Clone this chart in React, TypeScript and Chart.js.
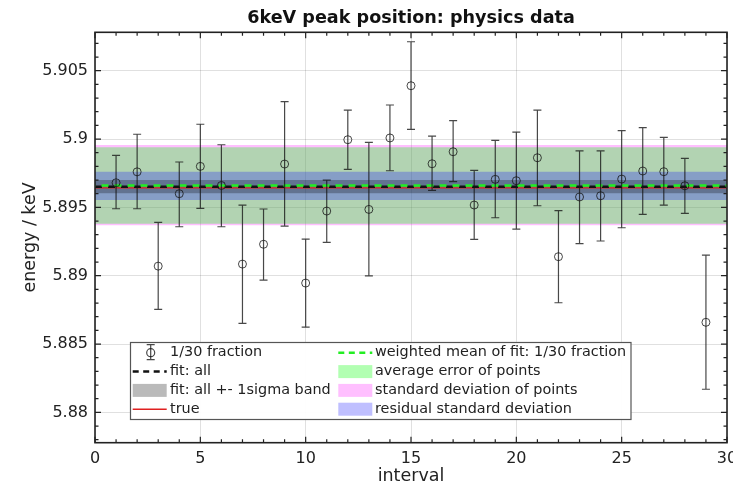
import React, { useEffect, useRef } from 'react';
import { Chart, registerables } from 'chart.js';

Chart.register(...registerables);

// ---------- data ----------
const intervals = [1, 2, 3, 4, 5, 6, 7, 8, 9, 10, 11, 12, 13, 14, 15, 16, 17, 18, 19, 20, 21, 22, 23, 24, 25, 26, 27, 28, 29];
const positions = [
  5.8968, 5.8976, 5.8907, 5.8960, 5.8980, 5.8966, 5.89085, 5.8923, 5.89817, 5.88946,
  5.89473, 5.89995, 5.89485, 5.90008, 5.9039, 5.89819, 5.89907, 5.89517, 5.89705, 5.89695,
  5.89863, 5.89139, 5.89576, 5.89585, 5.89707, 5.89766, 5.89761, 5.89658, 5.88659,
];
const errUpper = [
  5.8988, 5.90035, 5.8939, 5.89832, 5.90108, 5.89958, 5.89517, 5.89488, 5.90273, 5.89268,
  5.8970, 5.90212, 5.89976, 5.90249, 5.90712, 5.90022, 5.90134, 5.89771, 5.8999, 5.9005,
  5.90212, 5.89476, 5.89914, 5.89914, 5.90061, 5.90083, 5.90012, 5.89859, 5.89151,
];
const errLower = [
  5.8949, 5.8949, 5.88754, 5.89358, 5.89493, 5.89358, 5.88651, 5.88968, 5.89363, 5.88624,
  5.89244, 5.89778, 5.88998, 5.89768, 5.90071, 5.89625, 5.89688, 5.89266, 5.89424, 5.89341,
  5.89512, 5.88802, 5.89234, 5.89254, 5.89351, 5.89449, 5.89517, 5.89456, 5.88169,
];

const fitAll = 5.8965;
const fitBand = [5.89603, 5.8970];
const weightedMean = 5.8966;
const trueValue = 5.89642;
const avgErrBand = [5.8938, 5.8994];
const stdDevBand = [5.8937, 5.89956];
const residBand = [5.89554, 5.89761];

const X_MIN = 0;
const X_MAX = 30;
const Y_MIN = 5.87778;
const Y_MAX = 5.90781;
const xTickValues = [0, 5, 10, 15, 20, 25, 30];
const xTickLabels = ['0', '5', '10', '15', '20', '25', '30'];
const yTickValues = [5.88, 5.885, 5.89, 5.895, 5.9, 5.905];
const yTickLabels = ['5.88', '5.885', '5.89', '5.895', '5.9', '5.905'];

const titleText = '6keV peak position: physics data';
const xTitle = 'interval';
const yTitle = 'energy / keV';

const legendLeft = [
  { kind: 'errorbar', label: '1/30 fraction' },
  { kind: 'dash', color: '#111111', label: 'fit: all' },
  { kind: 'patch', color: 'rgba(0,0,0,0.27)', label: 'fit: all +- 1sigma band' },
  { kind: 'line', color: '#e02020', label: 'true' },
];
const legendRight = [
  { kind: 'dash', color: '#22ee22', label: 'weighted mean of fit: 1/30 fraction' },
  { kind: 'patch', color: 'rgba(0,255,0,0.3)', label: 'average error of points' },
  { kind: 'patch', color: 'rgba(255,0,255,0.25)', label: 'standard deviation of points' },
  { kind: 'patch', color: 'rgba(0,0,255,0.25)', label: 'residual standard deviation' },
];

const FONT = '"DejaVu Sans", Verdana, sans-serif';
const TEXT = '#222222';
const MARK = 'rgba(20,20,20,0.78)';

// ---------- helpers ----------
const hline = (y: number) => [{ x: X_MIN, y }, { x: X_MAX, y }];

const band = (range: number[], color: string, order: number) => ({
  type: 'line',
  data: hline(range[1]),
  fill: { value: range[0] },
  backgroundColor: color,
  borderWidth: 0,
  borderColor: 'transparent',
  pointRadius: 0,
  order,
});

const lineDs = (y: number, color: string, width: number, dash: number[], dashOffset: number, order: number) => ({
  type: 'line',
  data: hline(y),
  borderColor: color,
  borderWidth: width,
  borderDash: dash,
  borderDashOffset: dashOffset,
  borderCapStyle: 'butt',
  fill: false,
  pointRadius: 0,
  order,
});

const errorBarPlugin = {
  id: 'errorBars',
  afterDatasetsDraw(chart: any) {
    const { ctx, scales } = chart;
    const xs = scales.x, ys = scales.y;
    ctx.save();
    ctx.strokeStyle = MARK;
    ctx.lineWidth = 1.2;
    intervals.forEach((iv, i) => {
      const px = xs.getPixelForValue(iv);
      const pt = ys.getPixelForValue(errUpper[i]);
      const pb = ys.getPixelForValue(errLower[i]);
      ctx.beginPath();
      ctx.moveTo(px, pt);
      ctx.lineTo(px, pb);
      ctx.moveTo(px - 4, pt);
      ctx.lineTo(px + 4, pt);
      ctx.moveTo(px - 4, pb);
      ctx.lineTo(px + 4, pb);
      ctx.stroke();
    });
    ctx.restore();
  },
};

const framePlugin = {
  id: 'frameTicks',
  afterDraw(chart: any) {
    const { ctx, chartArea: a, scales } = chart;
    const xs = scales.x, ys = scales.y;
    ctx.save();
    ctx.strokeStyle = '#222';
    ctx.lineWidth = 1.2;
    ctx.beginPath();
    for (let k = X_MIN; k <= X_MAX; k++) {
      const px = xs.getPixelForValue(k);
      const len = k % 5 === 0 ? 6 : 3.5;
      ctx.moveTo(px, a.bottom);
      ctx.lineTo(px, a.bottom - len);
      ctx.moveTo(px, a.top);
      ctx.lineTo(px, a.top + len);
    }
    for (let k = 5878; k <= 5907; k++) {
      const py = ys.getPixelForValue(k / 1000);
      const len = k % 5 === 0 ? 6 : 3.5;
      ctx.moveTo(a.left, py);
      ctx.lineTo(a.left + len, py);
      ctx.moveTo(a.right, py);
      ctx.lineTo(a.right - len, py);
    }
    ctx.stroke();
    ctx.lineWidth = 1.6;
    ctx.strokeRect(a.left, a.top, a.right - a.left, a.bottom - a.top);
    ctx.restore();

    // title
    ctx.save();
    ctx.font = `bold 17.6px ${FONT}`;
    ctx.fillStyle = '#111';
    ctx.textAlign = 'center';
    ctx.textBaseline = 'middle';
    ctx.fillText(titleText, (a.left + a.right) / 2, 18.5);
    ctx.restore();

    // legend
    const bx = 130.5, by = 342.5, bw = 500.5, bh = 77;
    ctx.save();
    ctx.fillStyle = 'rgba(255,255,255,0.95)';
    ctx.fillRect(bx, by, bw, bh);
    ctx.strokeStyle = '#555';
    ctx.lineWidth = 1.2;
    ctx.strokeRect(bx, by, bw, bh);
    const rows = [352.7, 371.6, 390.4, 409.2];
    const drawEntry = (e: any, hx: number, tx: number, y: number) => {
      const hw = 34;
      if (e.kind === 'errorbar') {
        const cx = hx + hw / 2 + 1;
        ctx.strokeStyle = MARK;
        ctx.lineWidth = 1.2;
        ctx.beginPath();
        ctx.moveTo(cx, y - 8); ctx.lineTo(cx, y + 7);
        ctx.moveTo(cx - 4, y - 8); ctx.lineTo(cx + 4, y - 8);
        ctx.moveTo(cx - 4, y + 7); ctx.lineTo(cx + 4, y + 7);
        ctx.stroke();
        ctx.beginPath();
        ctx.arc(cx, y, 4, 0, Math.PI * 2);
        ctx.stroke();
      } else if (e.kind === 'dash') {
        ctx.strokeStyle = e.color;
        ctx.lineWidth = 2.5;
        ctx.setLineDash([6, 4.5]);
        ctx.beginPath();
        ctx.moveTo(hx, y); ctx.lineTo(hx + hw, y);
        ctx.stroke();
        ctx.setLineDash([]);
      } else if (e.kind === 'line') {
        ctx.strokeStyle = e.color;
        ctx.lineWidth = 1.5;
        ctx.beginPath();
        ctx.moveTo(hx, y); ctx.lineTo(hx + hw, y);
        ctx.stroke();
      } else {
        ctx.fillStyle = e.color;
        ctx.fillRect(hx, y - 6.5, hw, 13);
      }
      ctx.fillStyle = TEXT;
      ctx.font = `14.4px ${FONT}`;
      ctx.textAlign = 'left';
      ctx.textBaseline = 'middle';
      ctx.fillText(e.label, tx, y);
    };
    legendLeft.forEach((e, i) => drawEntry(e, 132.7, 170, rows[i]));
    legendRight.forEach((e, i) => drawEntry(e, 338.3, 375, rows[i]));
    ctx.restore();
  },
};

export default function App() {
  const ref = useRef<HTMLCanvasElement>(null);

  useEffect(() => {
    const canvas = ref.current;
    if (!canvas) return;
    const pointData = intervals.map((x, i) => ({ x, y: positions[i] }));
    const chart = new Chart(canvas, {
      type: 'line',
      data: {
        datasets: [
          band(stdDevBand, 'rgba(255,0,255,0.25)', 20),
          band(avgErrBand, 'rgba(0,255,0,0.3)', 19),
          band(residBand, 'rgba(0,0,255,0.25)', 18),
          band(fitBand, 'rgba(0,0,0,0.27)', 17),
          lineDs(trueValue, '#e02020', 1.3, [], 0, 16),
          lineDs(fitAll, '#111111', 2.5, [7, 6], 0, 15),
          lineDs(weightedMean, '#22ee22', 2.5, [7, 6], 6.5, 14),
          {
            type: 'line',
            data: pointData,
            showLine: false,
            pointStyle: 'circle',
            pointRadius: 4,
            pointBorderWidth: 1,
            pointBorderColor: MARK,
            pointBackgroundColor: 'rgba(0,0,0,0)',
            borderColor: MARK,
            backgroundColor: 'rgba(0,0,0,0)',
            fill: false,
            order: 1,
          },
        ] as any,
      },
      options: {
        responsive: false,
        animation: false,
        events: [],
        layout: { padding: { left: 0, right: 6, top: 32.3, bottom: 0 } },
        plugins: {
          legend: { display: false },
          tooltip: { enabled: false },
          title: { display: false },
        },
        scales: {
          x: {
            type: 'linear',
            min: X_MIN,
            max: X_MAX,
            position: 'bottom',
            border: { display: false },
            grid: { color: 'rgba(0,0,0,0.12)', lineWidth: 1, drawTicks: false },
            ticks: {
              autoSkip: false,
              maxRotation: 0,
              padding: 7,
              color: TEXT,
              font: { family: FONT, size: 16 },
              callback: (v: any) => {
                const i = xTickValues.indexOf(Number(v));
                return i >= 0 ? xTickLabels[i] : '';
              },
            },
            title: {
              display: true,
              text: xTitle,
              color: TEXT,
              font: { family: FONT, size: 17.5, lineHeight: 1 },
              padding: { top: 0, bottom: 0.5 },
            },
            afterBuildTicks: (s: any) => {
              s.ticks = xTickValues.map((value) => ({ value }));
            },
            afterFit: (s: any) => {
              s.height = 43.3;
              s.paddingLeft = 0;
              s.paddingRight = 0;
            },
          },
          y: {
            type: 'linear',
            min: Y_MIN,
            max: Y_MAX,
            position: 'left',
            border: { display: false },
            grid: { color: 'rgba(0,0,0,0.12)', lineWidth: 1, drawTicks: false },
            ticks: {
              autoSkip: false,
              padding: 7,
              color: TEXT,
              font: { family: FONT, size: 16 },
              callback: (v: any) => {
                const i = yTickValues.findIndex((t) => Math.abs(t - Number(v)) < 1e-9);
                return i >= 0 ? yTickLabels[i] : '';
              },
            },
            title: {
              display: true,
              text: yTitle,
              color: TEXT,
              font: { family: FONT, size: 17.5, lineHeight: 1 },
              padding: { top: 21.25, bottom: 0 },
            },
            afterBuildTicks: (s: any) => {
              s.ticks = yTickValues.map((value) => ({ value }));
            },
            afterFit: (s: any) => {
              s.width = 95;
              s.paddingTop = 0;
              s.paddingBottom = 0;
            },
          },
        },
      } as any,
      plugins: [errorBarPlugin, framePlugin],
    });
    return () => chart.destroy();
  }, []);

  return (
    <div style={{ position: 'fixed', left: 0, top: 0, width: 733, height: 486, overflow: 'hidden', background: '#fff' }}>
      <canvas ref={ref} width={733} height={486} style={{ display: 'block', width: 733, height: 486 }} />
    </div>
  );
}
